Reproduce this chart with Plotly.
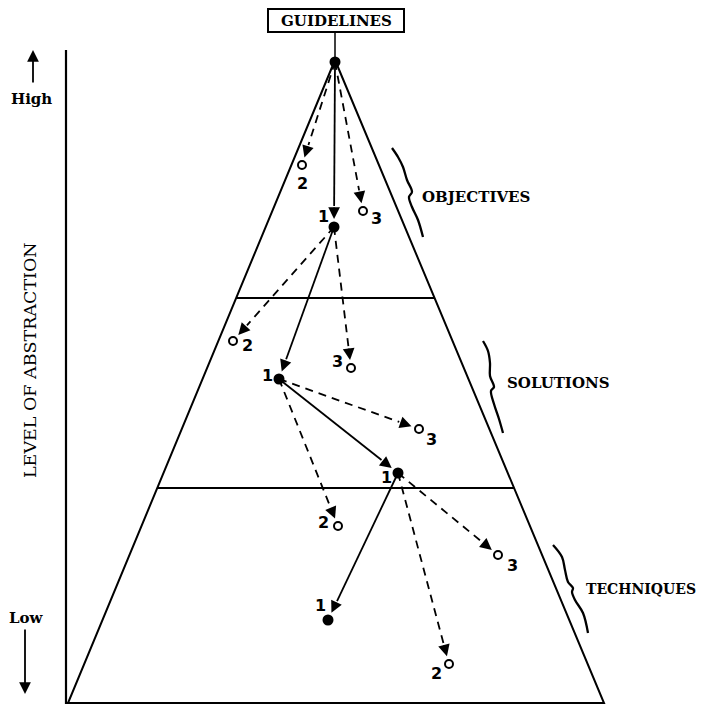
import numpy as np
import plotly.graph_objects as go

# ---------------- data (in picture units) ----------------
# triangle (pyramid) corners: apex, bottom-left, bottom-right
tri_x = [335, 68, 604, 335]
tri_y = [60, 703, 703, 60]

# level dividers (y positions of the horizontal cuts)
divider_y = [298, 488]

# nodes
node_x = [335, 302, 363, 334, 233, 351, 279, 419, 398, 338, 498, 328, 449]
node_y = [62, 165, 211, 227, 341, 368, 379, 429, 473, 526, 555, 620, 664]
node_filled = [True, False, False, True, False, False, True, False, True, False, False, True, False]
node_label = ["", "2", "3", "1", "2", "3", "1", "3", "1", "2", "3", "1", "2"]
label_x = [0, 302, 376, 323, 247, 337, 267, 431, 386, 323, 512, 320, 436]
label_y = [0, 183, 218, 216, 345, 361, 375, 439, 477, 522, 565, 605, 673]

# edges: source node index, target node index, style
edge_from = [0, 0, 0, 3, 3, 3, 6, 6, 6, 8, 8, 8]
edge_to = [3, 1, 2, 4, 6, 5, 7, 8, 9, 11, 10, 12]
edge_solid = [True, False, False, False, True, False, False, True, False, True, False, False]

# braces (curly brackets beside the levels)
brace_obj_x = [392, 398, 403, 407, 412, 409, 412, 418, 423]
brace_obj_y = [148, 157, 167, 180, 192, 197, 207, 220, 237]
brace_sol_x = [483, 488, 490, 490, 494, 491, 494, 499, 503]
brace_sol_y = [341, 351, 363, 376, 387, 391, 404, 419, 433]
brace_tech_x = [553, 562, 565, 568, 573, 572, 575, 583, 588]
brace_tech_y = [545, 557, 570, 582, 588, 592, 600, 613, 633]

level_names = ["OBJECTIVES", "SOLUTIONS", "TECHNIQUES"]
level_label_x = [420, 505, 584]
level_label_y = [197, 383, 589]
level_font = [15, 15, 14]

title_text = "GUIDELINES"
axis_title = "LEVEL OF ABSTRACTION"

W, H = 709, 706
OFF = 8  # page margin of the html body
SERIF = "DejaVu Serif"
SANS = "DejaVu Sans"

fig = go.Figure()

# axis lines (left vertical and base)
fig.add_trace(go.Scatter(x=[66, 66, 604], y=[50, 703, 703], mode="lines",
                         line=dict(color="black", width=2.2), hoverinfo="skip"))
# triangle
fig.add_trace(go.Scatter(x=tri_x, y=tri_y, mode="lines",
                         line=dict(color="black", width=2), hoverinfo="skip"))
# dividers: intersect with triangle sides
ax_, ay_ = tri_x[0], tri_y[0]
for dy in divider_y:
    t = (dy - ay_) / (tri_y[1] - ay_)
    xl = ax_ + (tri_x[1] - ax_) * t
    xr = ax_ + (tri_x[2] - ax_) * t
    fig.add_trace(go.Scatter(x=[xl, xr], y=[dy, dy], mode="lines",
                             line=dict(color="black", width=2), hoverinfo="skip"))

# stem from guidelines box to apex
fig.add_trace(go.Scatter(x=[335, 335], y=[32, 60], mode="lines",
                         line=dict(color="black", width=1.5), hoverinfo="skip"))

# edges
gap = 8
head_len = 13
for f, t, s in zip(edge_from, edge_to, edge_solid):
    x0, y0 = node_x[f], node_y[f]
    x1, y1 = node_x[t], node_y[t]
    d = np.array([x1 - x0, y1 - y0], dtype=float)
    u = d / np.linalg.norm(d)
    tip = np.array([x1, y1]) - u * gap
    tail = tip - u * head_len
    fig.add_trace(go.Scatter(x=[x0, tail[0]], y=[y0, tail[1]], mode="lines",
                             line=dict(color="black", width=1.8,
                                       dash="solid" if s else "8px,6px"),
                             hoverinfo="skip"))
    fig.add_annotation(x=tip[0], y=tip[1], ax=tail[0], ay=tail[1],
                       xref="x", yref="y", axref="x", ayref="y",
                       showarrow=True, arrowhead=2, arrowsize=1.3,
                       arrowwidth=1.8, arrowcolor="black", text="")

# nodes
fx = [x for x, f in zip(node_x, node_filled) if f]
fy = [y for y, f in zip(node_y, node_filled) if f]
hx = [x for x, f in zip(node_x, node_filled) if not f]
hy = [y for y, f in zip(node_y, node_filled) if not f]
fig.add_trace(go.Scatter(x=fx, y=fy, mode="markers",
                         marker=dict(size=11, color="black"), hoverinfo="skip"))
fig.add_trace(go.Scatter(x=hx, y=hy, mode="markers",
                         marker=dict(size=8, color="white",
                                     line=dict(color="black", width=2)),
                         hoverinfo="skip"))
for lx, ly, lab in zip(label_x, label_y, node_label):
    if lab:
        fig.add_annotation(x=lx, y=ly, text=f"<b>{lab}</b>", showarrow=False,
                           font=dict(family=SANS, size=16, color="black"),
                           xanchor="center", yanchor="middle")

# braces
for bx, by in [(brace_obj_x, brace_obj_y), (brace_sol_x, brace_sol_y),
               (brace_tech_x, brace_tech_y)]:
    fig.add_trace(go.Scatter(x=bx, y=by, mode="lines",
                             line=dict(color="black", width=2.3, shape="spline"),
                             hoverinfo="skip"))
for name, lx, ly, fs in zip(level_names, level_label_x, level_label_y, level_font):
    fig.add_annotation(x=lx, y=ly, text=f"<b>{name}</b>", showarrow=False,
                       font=dict(family=SERIF, size=fs, color="black"),
                       xanchor="left", yanchor="middle")

# guidelines box
fig.add_shape(type="rect", x0=268, y0=9, x1=404, y1=32, xref="x", yref="y",
              line=dict(color="black", width=2), fillcolor="white")
fig.add_annotation(x=336, y=21, text=f"<b>{title_text}</b>", showarrow=False,
                   font=dict(family=SERIF, size=15, color="black"),
                   xanchor="center", yanchor="middle")

# left axis labels
fig.add_annotation(x=30, y=360, text=axis_title, showarrow=False, textangle=-90,
                   font=dict(family=SERIF, size=17.5, color="black"),
                   xanchor="center", yanchor="middle")
fig.add_annotation(x=31, y=99, text="<b>High</b>", showarrow=False,
                   font=dict(family=SERIF, size=15, color="black"),
                   xanchor="center", yanchor="middle")
fig.add_annotation(x=26, y=618, text="<b>Low</b>", showarrow=False,
                   font=dict(family=SERIF, size=15, color="black"),
                   xanchor="center", yanchor="middle")
fig.add_annotation(x=33, y=50, ax=33, ay=84, xref="x", yref="y", axref="x", ayref="y",
                   showarrow=True, arrowhead=2, arrowsize=1.3, arrowwidth=1.8,
                   arrowcolor="black", text="")
fig.add_annotation(x=25, y=694, ax=25, ay=628, xref="x", yref="y", axref="x", ayref="y",
                   showarrow=True, arrowhead=2, arrowsize=1.3, arrowwidth=1.8,
                   arrowcolor="black", text="")

fig.update_layout(width=W - OFF, height=H - OFF, margin=dict(l=0, r=0, t=0, b=0),
                  plot_bgcolor="white", paper_bgcolor="white", showlegend=False,
                  xaxis=dict(range=[OFF, W], visible=False, fixedrange=True),
                  yaxis=dict(range=[H, OFF], visible=False, fixedrange=True))
fig.write_html("out.html")
